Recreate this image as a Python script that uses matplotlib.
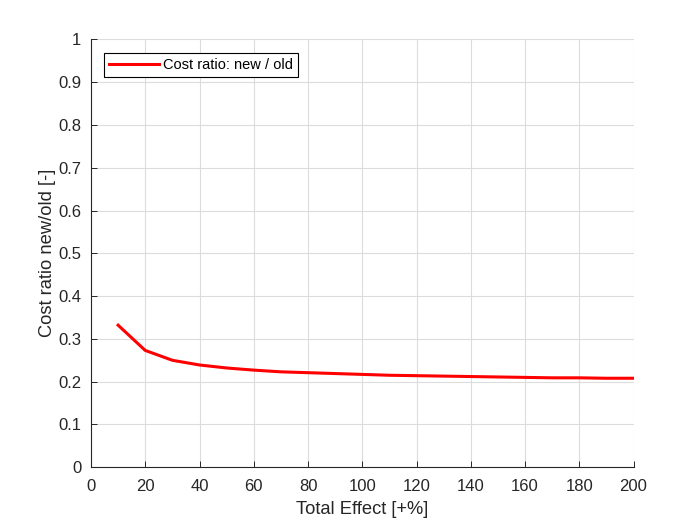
import numpy as np
import matplotlib
matplotlib.use('Agg')
import matplotlib.pyplot as plt

plt.rcParams['font.family'] = ['Liberation Sans', 'DejaVu Sans']

# data
total_effect = [10, 20, 30, 40, 50, 60, 70, 80, 90, 100,
                110, 120, 130, 140, 150, 160, 170, 180, 190, 200]
cost_ratio = [0.332, 0.273, 0.250, 0.239, 0.232, 0.227, 0.223, 0.221, 0.219, 0.217,
              0.215, 0.214, 0.213, 0.212, 0.211, 0.210, 0.209, 0.209, 0.208, 0.208]

fig = plt.figure(figsize=(7, 5.25), dpi=100)
ax = fig.add_axes([0.13, 0.11, 0.775, 0.815])

ax.plot(total_effect, cost_ratio, color='red', lw=2.2, label='Cost ratio: new / old')

ax.set_xlim(0, 200)
ax.set_ylim(0, 1)
ax.set_xticks(np.arange(0, 201, 20))
ax.set_yticks(np.arange(0, 1.01, 0.1))
ax.set_yticklabels(['0'] + ['%.1f' % v for v in np.arange(0.1, 0.95, 0.1)] + ['1'])

# box off: only left/bottom axis lines, grid closes the frame
ax.grid(True, color='#dcdcdc', lw=0.8)
ax.set_axisbelow(True)
ax.spines['top'].set_visible(False)
ax.spines['right'].set_visible(False)
ax.tick_params(direction='in', length=4, width=0.7, colors='#262626', labelsize=12)
ax.tick_params(axis='x', pad=8.5)
ax.tick_params(axis='y', pad=7)
for s in ['left', 'bottom']:
    ax.spines[s].set_color('#262626')
    ax.spines[s].set_linewidth(0.8)

ax.set_xlabel('Total Effect [+%]', fontsize=13.2, color='#262626', labelpad=5)
ax.set_ylabel('Cost ratio new/old [-]', fontsize=13.2, color='#262626', labelpad=1.5)

leg = ax.legend(loc='upper left', fontsize=10.5, fancybox=False, framealpha=1,
                edgecolor='black', borderaxespad=0.9, handlelength=3.4,
                handletextpad=0.3, borderpad=0.35)
leg.get_frame().set_linewidth(0.8)

fig.savefig('out.png', dpi=100)
